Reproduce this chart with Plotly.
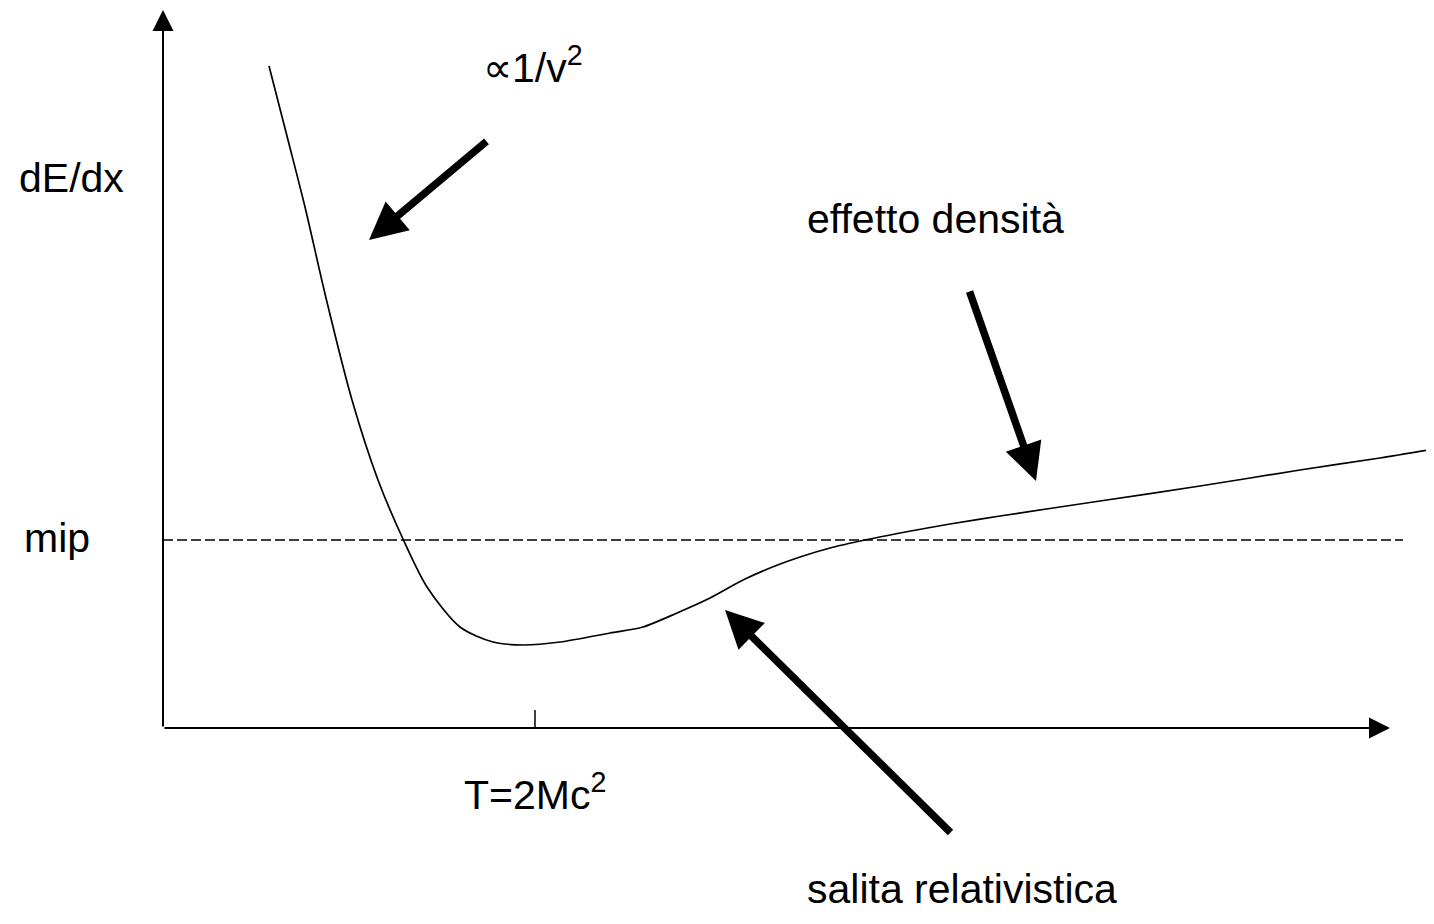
import plotly.graph_objects as go

# ---- data (schematic units: origin at the axes corner) ----
curve_x = [106, 125, 142, 163, 189, 215, 240, 264, 297, 330, 360, 397, 447, 480,
           514, 547, 580, 612, 637, 667, 702, 737, 787, 837, 937, 1037, 1137, 1217, 1271]
curve_y = [662, 588, 521, 430, 328, 248, 189, 141, 101, 86, 83, 86, 95, 101,
           115, 130, 148, 162, 171, 180, 188, 195, 204, 212, 227, 242, 258, 270, 279]

mip_level = 188
mip_x = [0, 1240]
tick_x = 372
tick_len = 18

# arrows: (tail_x, tail_y, tip_x, tip_y)
arrow_inv_v2 = (325, 588, 206, 488)
arrow_density = (806, 438, 873, 247)
arrow_relativistic = (789, -106, 562, 118)
axis_y_arrow = (0, 0, 0, 718)
axis_x_arrow = (0, 0, 1227, 0)

# labels: (text, x_left, y_center)
labels = [
    ("\u221d1/v<sup>2</sup>", 318, 663),
    ("dE/dx", -146, 550),
    ("effetto densità", 642, 509),
    ("mip", -141, 190),
    ("T=2Mc<sup>2</sup>", 299, -64),
    ("salita relativistica", 642, -161),
]

FONT = "Arial, 'Liberation Sans', sans-serif"

fig = go.Figure()

fig.add_trace(go.Scatter(x=curve_x, y=curve_y, mode="lines",
                         line=dict(color="black", width=1.7, shape="spline", smoothing=0.8),
                         hoverinfo="skip", showlegend=False))

fig.add_trace(go.Scatter(x=mip_x, y=[mip_level, mip_level], mode="lines",
                         line=dict(color="black", width=1.4, dash="10px,4px"),
                         hoverinfo="skip", showlegend=False))

fig.add_trace(go.Scatter(x=[tick_x, tick_x], y=[0, tick_len], mode="lines",
                         line=dict(color="black", width=1.5),
                         hoverinfo="skip", showlegend=False))

annotations = []


def add_arrow(a, width, size):
    tx, ty, hx, hy = a
    annotations.append(dict(x=hx, y=hy, ax=tx, ay=ty, xref="x", yref="y",
                            axref="x", ayref="y", text="", showarrow=True,
                            arrowhead=2, arrowwidth=width, arrowsize=size,
                            arrowcolor="black", standoff=0, startstandoff=0))


add_arrow(axis_y_arrow, 2, 2.1)
add_arrow(axis_x_arrow, 2, 2.1)
add_arrow(arrow_inv_v2, 7.5, 1.0)
add_arrow(arrow_density, 7.5, 1.0)
add_arrow(arrow_relativistic, 7.5, 1.0)

for txt, lx, ly in labels:
    annotations.append(dict(x=lx, y=ly, xref="x", yref="y", text=txt,
                            showarrow=False, xanchor="left", yanchor="middle",
                            font=dict(family=FONT, size=41, color="black")))

# the page body has an 8px margin; size/offset the figure so the drawing lands
# at the same place as in the reference
fig.update_layout(
    width=1426, height=908,
    margin=dict(l=0, r=0, t=0, b=0),
    paper_bgcolor="white", plot_bgcolor="white",
    xaxis=dict(range=[-155, 1271], visible=False, fixedrange=True),
    yaxis=dict(range=[-188, 720], visible=False, fixedrange=True),
    annotations=annotations,
    showlegend=False,
)

fig.write_html("out.html")
